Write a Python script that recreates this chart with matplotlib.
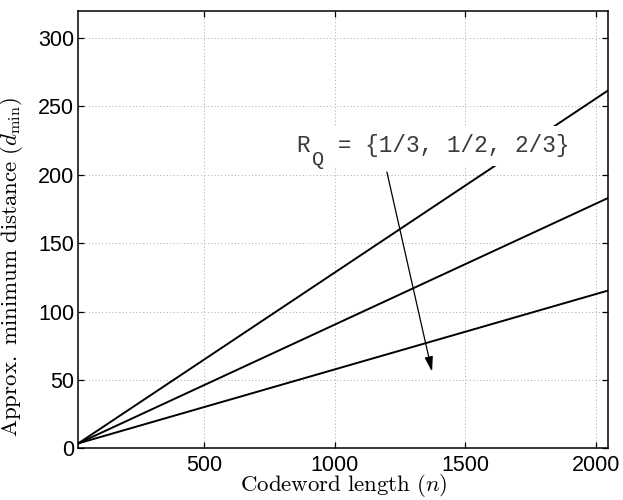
import numpy as np
import matplotlib
matplotlib.use("Agg")
import matplotlib.pyplot as plt

plt.rcParams['mathtext.fontset'] = 'cm'
plt.rcParams['font.family'] = ['Liberation Sans', 'DejaVu Sans']

# codeword length (n) and approx. minimum distance for each rate R_Q
n_vals = [18, 2048]
d_rate_2_3 = [3.6, 115.4]
d_rate_1_2 = [3.6, 183.1]
d_rate_1_3 = [3.6, 261.8]

x_ticks = [500, 1000, 1500, 2000]
y_ticks = [0, 50, 100, 150, 200, 250, 300]

fig = plt.figure(figsize=(6.23, 5.0), dpi=100)
ax = fig.add_axes([0.1257, 0.1034, 0.8507, 0.8752])

for d in (d_rate_1_3, d_rate_1_2, d_rate_2_3):
	ax.plot(n_vals, d, color='black', lw=1.4, zorder=2)

ax.set_xlim(18, 2048)
ax.set_ylim(0, 320)
ax.set_xticks(x_ticks)
ax.set_yticks(y_ticks)
ax.grid(True, color='#a8a8a8', lw=0.7, linestyle=(0, (1, 2.5)))
ax.set_axisbelow(True)
ax.tick_params(direction='in', length=4, width=0.9, top=True, right=True, labelsize=15.5)
ax.tick_params(axis='x', pad=5)
ax.tick_params(axis='y', pad=3)
for s in ax.spines.values():
	s.set_linewidth(1.1)

ax.set_xlabel(r'$\mathrm{Codeword\ length\ }(n)$', fontsize=16.5)
ax.xaxis.set_label_coords(0.501, -0.054)
ax.set_ylabel(r'$\mathrm{Approx.\ minimum\ distance\ }(d_{\min})$', fontsize=16.5)
ax.yaxis.set_label_coords(-0.1, 0.415)

# rate annotation in a fixed width font, white box hides what is behind it
ax.text(857, 216.5, 'R  = {1/3, 1/2, 2/3}', family='Liberation Mono', fontsize=16.4,
	color='#3a3a3a', ha='left', va='baseline', zorder=4,
	bbox=dict(facecolor='white', edgecolor='none', pad=6))
ax.text(912, 207, 'Q', family='Liberation Mono', fontsize=14.5, color='#3a3a3a',
	ha='left', va='baseline', zorder=5)

ax.annotate('', xy=(1373, 56), xytext=(1200, 202),
	arrowprops=dict(arrowstyle='-|>,head_length=0.9,head_width=0.25', color='black', lw=0.9,
		shrinkA=0, shrinkB=0), zorder=3)

fig.savefig('out.png', dpi=100)
